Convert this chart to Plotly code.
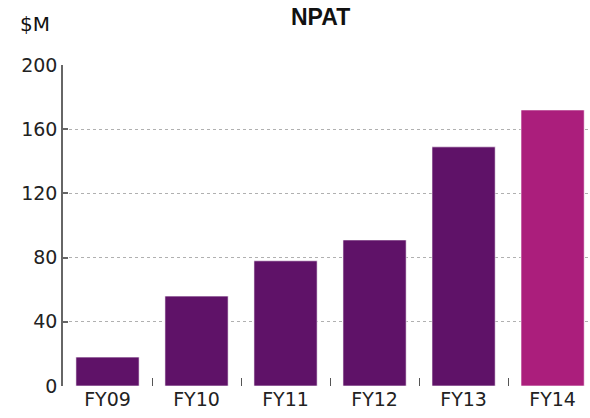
import plotly.graph_objects as go

categories = ["FY09", "FY10", "FY11", "FY12", "FY13", "FY14"]
npat_values = [18, 56, 78, 91, 149, 172]
bar_colors = ["#5f1268", "#5f1268", "#5f1268", "#5f1268", "#5f1268", "#ab1e7c"]
y_ticks = [0, 40, 80, 120, 160, 200]

FONT = "DejaVu Sans, sans-serif"

fig = go.Figure(
    go.Bar(
        x=categories,
        y=npat_values,
        marker=dict(color=bar_colors, line=dict(color="rgba(255,255,255,0.6)", width=1)),
    )
)

fig.update_layout(
    width=590,
    height=418,
    margin=dict(l=63, r=0, t=65, b=32),
    plot_bgcolor="white",
    paper_bgcolor="white",
    bargap=0.29,
    showlegend=False,
    font=dict(family=FONT, size=19, color="#222"),
    annotations=[
        dict(text="<b>NPAT</b>", x=0.488, y=1.150, xref="paper", yref="paper",
             xanchor="center", yanchor="middle", showarrow=False,
             font=dict(family="Liberation Sans, Arial, sans-serif", size=23, color="#111")),
        dict(text="$M", x=-0.053, y=1.128, xref="paper", yref="paper",
             xanchor="center", yanchor="middle", showarrow=False,
             font=dict(family=FONT, size=20, color="#111")),
    ],
)

fig.update_yaxes(
    range=[0, 200],
    tickvals=y_ticks,
    showline=True, linecolor="#666", linewidth=1.5,
    ticks="inside", ticklen=5, tickcolor="#666", tickwidth=1.5,
    showgrid=True, gridcolor="#b0b0b0", griddash="3px,3px", gridwidth=1,
    zeroline=False,
    tickfont=dict(family=FONT, size=19, color="#222"),
)

fig.update_xaxes(
    range=[-0.5, 5.42],
    showline=False,
    ticks="inside", tickson="boundaries", ticklen=8, tickcolor="#555", tickwidth=1,
    showgrid=False,
    tickfont=dict(family=FONT, size=19, color="#222"),
)

fig.write_html(
    "out.html",
    config={"displayModeBar": False},
    post_script="document.body.style.margin='0';document.body.style.overflow='hidden';",
)
